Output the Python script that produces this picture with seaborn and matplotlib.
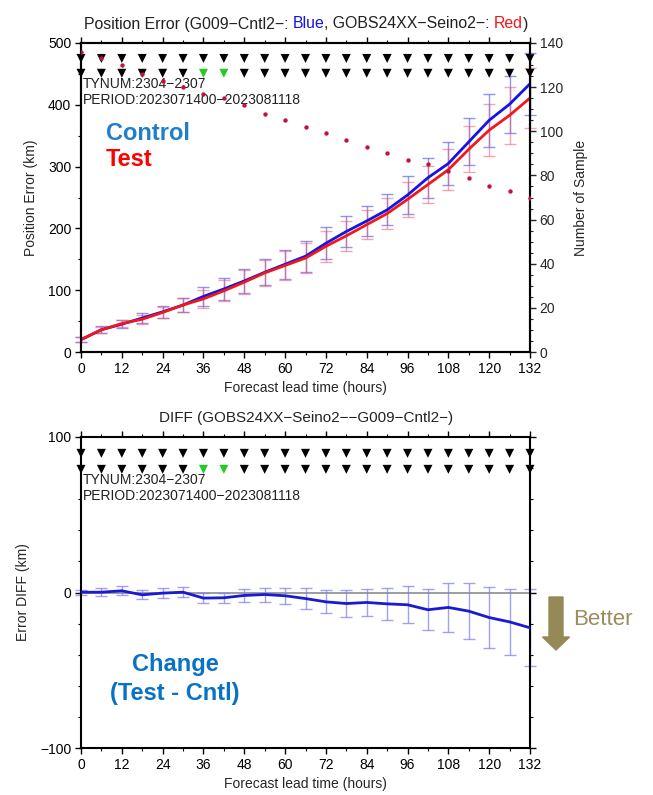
import numpy as np
import pandas as pd
import seaborn as sns
import matplotlib
matplotlib.use("Agg")
import matplotlib.pyplot as plt
from matplotlib.ticker import MultipleLocator
from matplotlib.patches import FancyArrow

# ---------------- data ----------------
hours = list(range(0, 133, 6))
control_err = [20, 36, 45, 55, 65, 76, 90, 102, 115, 129, 142, 155, 176, 195, 212, 230, 254, 282, 305, 340, 375, 401, 434]
test_err = [20, 36, 46, 53, 64, 76, 86, 99, 113, 128, 140, 152, 171, 188, 206, 224, 247, 271, 295, 328, 359, 383, 411]
control_sd = [4, 5.5, 6.5, 8, 10, 12, 15, 18, 19.5, 21, 23.5, 25, 25.5, 25, 24, 25, 30, 32, 35, 38, 43, 46, 50]
test_sd = [4, 5, 6, 7.5, 9.5, 11.5, 14, 17, 19, 20.5, 23, 24.5, 25, 24, 23.5, 24.5, 28, 30, 33, 37, 42, 46, 48.5]
n_sample = [136, 133, 130, 126, 123, 120, 117, 115, 112, 108, 105, 102, 99, 96, 93, 90, 87, 85, 82, 79, 75, 73, 70]
diff_mean = [0.2, 0.2, 1.1, -1.5, -0.4, 0.2, -3.6, -3.4, -1.9, -1.3, -2.1, -3.9, -6.0, -7.1, -6.4, -7.3, -7.9, -11.1, -9.6, -12.0, -16.1, -18.9, -22.7]
diff_sd = [1.7, 2.4, 2.8, 2.8, 3.0, 3.2, 3.2, 3.2, 4.0, 4.5, 5.1, 6.6, 7.3, 8.6, 8.8, 10.3, 11.8, 13.3, 15.9, 18.2, 19.9, 21.2, 24.7]
green_hours = [36, 42]
tick_labels_x = [str(h) for h in range(0, 133, 12)]

TITLE_TOP = [("Position Error (G009\u2212Cntl2\u2212: ", "#222222"), ("Blue", "#1414e6"),
             (", GOBS24XX\u2212Seino2\u2212: ", "#222222"), ("Red", "#f01818"), (")", "#222222")]
TITLE_BOT = "DIFF (GOBS24XX\u2212Seino2\u2212\u2212G009\u2212Cntl2\u2212)"
INFO1 = "TYNUM:2304\u22122307"
INFO2 = "PERIOD:2023071400\u22122023081118"

# ---------------- style ----------------
sns.set_style("ticks")
plt.rcParams["font.family"] = ["Liberation Sans", "DejaVu Sans"]
plt.rcParams["axes.unicode_minus"] = True

W, H = 653, 795
fig = plt.figure(figsize=(W / 100, H / 100), dpi=100)

def fx(px):
    return px / W

def fy(py):
    return 1 - py / H

ax1 = fig.add_axes([fx(81), fy(352), fx(530) - fx(81), fy(43) - fy(352)])
ax2 = fig.add_axes([fx(81), fy(748), fx(530) - fx(81), fy(437) - fy(748)])

def style_axes(ax, right=True):
    for s in ax.spines.values():
        s.set_linewidth(1.5)
        s.set_color("black")
        s.set_visible(True)
    ax.tick_params(which="both", direction="out", top=True, right=right, labelsize=10,
                   colors="black", pad=3)
    ax.tick_params(which="major", length=4, width=1)
    ax.tick_params(which="minor", length=2.5, width=0.8)
    ax.xaxis.set_major_locator(MultipleLocator(12))
    ax.xaxis.set_minor_locator(MultipleLocator(6))

# ---------------- top panel ----------------
df_top = pd.DataFrame({
    "hour": hours * 2,
    "err": control_err + test_err,
    "run": ["Control"] * len(hours) + ["Test"] * len(hours),
})
ax1.errorbar(hours, control_err, yerr=control_sd, fmt="none", ecolor=(0.35, 0.35, 0.92, 0.65),
             elinewidth=1, capsize=4, capthick=1, zorder=2, clip_on=False)
ax1.errorbar(hours, test_err, yerr=test_sd, fmt="none", ecolor=(0.93, 0.35, 0.45, 0.55),
             elinewidth=1, capsize=4, capthick=1, zorder=2, clip_on=False)
sns.lineplot(data=df_top, x="hour", y="err", hue="run", hue_order=["Control", "Test"],
             palette={"Control": "#1414e6", "Test": "#f01818"}, linewidth=2, legend=False,
             ax=ax1, zorder=3)

row_y_top = [475, 451]
for i, yv in enumerate(row_y_top):
    cols = ["#22cc22" if (i == 1 and h in green_hours) else "black" for h in hours]
    sns.scatterplot(x=hours, y=[yv] * len(hours), marker="v", s=42, c=cols, linewidth=0,
                    ax=ax1, zorder=5, clip_on=False, legend=False)

style_axes(ax1, right=False)
ax1.set_xlim(0, 132)
ax1.set_ylim(0, 500)
ax1.yaxis.set_major_locator(MultipleLocator(100))
ax1.yaxis.set_minor_locator(MultipleLocator(50))
ax1.set_xticks(range(0, 133, 12))
ax1.set_xticklabels(tick_labels_x)
ax1.set_xlabel("Forecast lead time (hours)", fontsize=10, labelpad=4)
ax1.set_ylabel("Position Error (km)", fontsize=10, labelpad=7)

ax1r = ax1.twinx()
sns.scatterplot(x=hours, y=n_sample, color="#c8103c", s=10, linewidth=0, ax=ax1r, zorder=4,
                legend=False)
ax1r.set_ylim(0, 140)
ax1r.yaxis.set_major_locator(MultipleLocator(20))
ax1r.yaxis.set_minor_locator(MultipleLocator(5))
for s in ax1r.spines.values():
    s.set_linewidth(1.5)
    s.set_color("black")
ax1r.tick_params(which="both", direction="out", labelsize=10, pad=3)
ax1r.tick_params(which="major", length=4, width=1)
ax1r.tick_params(which="minor", length=2.5, width=0.8)
ax1r.set_ylabel("Number of Sample", fontsize=10, labelpad=8)

ax1.text(fx(83), fy(88.5), INFO1, transform=fig.transFigure, fontsize=10, color="#222222", zorder=6)
ax1.text(fx(83), fy(104.5), INFO2, transform=fig.transFigure, fontsize=10, color="#222222", zorder=6)

# ---------------- bottom panel ----------------
ax2.axhline(0, color="#8c8c8c", linewidth=1.2, zorder=1)
ax2.errorbar(hours, diff_mean, yerr=diff_sd, fmt="none", ecolor=(0.5, 0.5, 0.95, 0.75),
             elinewidth=1, capsize=4, capthick=1, zorder=2, clip_on=False)
sns.lineplot(x=hours, y=diff_mean, color="#1a1ad2", linewidth=2, ax=ax2, zorder=3)

row_y_bot = [89.5, 79.2]
for i, yv in enumerate(row_y_bot):
    cols = ["#22cc22" if (i == 1 and h in green_hours) else "black" for h in hours]
    sns.scatterplot(x=hours, y=[yv] * len(hours), marker="v", s=42, c=cols, linewidth=0,
                    ax=ax2, zorder=5, clip_on=False, legend=False)

style_axes(ax2, right=True)
ax2.set_xlim(0, 132)
ax2.set_ylim(-100, 100)
ax2.yaxis.set_major_locator(MultipleLocator(100))
ax2.yaxis.set_minor_locator(MultipleLocator(20))
ax2.set_xticks(range(0, 133, 12))
ax2.set_xticklabels(tick_labels_x)
ax2.set_xlabel("Forecast lead time (hours)", fontsize=10, labelpad=4)
ax2.set_ylabel("Error DIFF (km)", fontsize=10, labelpad=7)

ax2.text(fx(83), fy(484.5), INFO1, transform=fig.transFigure, fontsize=10, color="#222222", zorder=6)
ax2.text(fx(83), fy(500.5), INFO2, transform=fig.transFigure, fontsize=10, color="#222222", zorder=6)

# ---------------- titles ----------------
renderer = fig.canvas.get_renderer()

def ink_width(s, size):
    t = fig.text(0, 0, s, fontsize=size)
    w = t.get_window_extent(renderer).width
    t.remove()
    return w

def advance(s, size):
    # typographic advance of s (independent of side bearings)
    return ink_width("H" + s + "H", size) - ink_width("HH", size)

size_t = 11.4
full = "".join(p for p, _ in TITLE_TOP)
total_w = ink_width(full, size_t)
x0 = 306 - total_w / 2
prefix = ""
for part, col in TITLE_TOP:
    off = advance(prefix, size_t) if prefix else 0
    fig.text(fx(x0 + off), fy(28.5), part, fontsize=size_t, color=col, ha="left", va="baseline")
    prefix += part

fig.text(fx(306), fy(422), TITLE_BOT, fontsize=11, color="#222222", ha="center", va="baseline")

# ---------------- annotations ----------------
fig.text(fx(106), fy(139.5), "Control", fontsize=17, fontweight="bold", color="#1f7fcc", va="baseline")
fig.text(fx(106), fy(166.5), "Test", fontsize=17, fontweight="bold", color="#ff0000", va="baseline")
fig.text(fx(175), fy(671), "Change", fontsize=17, fontweight="bold", color="#0a72c4", ha="center", va="baseline")
fig.text(fx(175), fy(700), "(Test - Cntl)", fontsize=17, fontweight="bold", color="#0a72c4", ha="center", va="baseline")

arrow = FancyArrow(fx(556), fy(597), 0, fy(650) - fy(597), width=14 / W,
                   head_width=27 / W, head_length=13 / H, length_includes_head=True,
                   color="#958a55", transform=fig.transFigure, figure=fig)
fig.patches.append(arrow)
fig.text(fx(573), fy(625), "Better", fontsize=16, color="#9a8e5c", va="baseline")

fig.savefig("out.png", dpi=100)
